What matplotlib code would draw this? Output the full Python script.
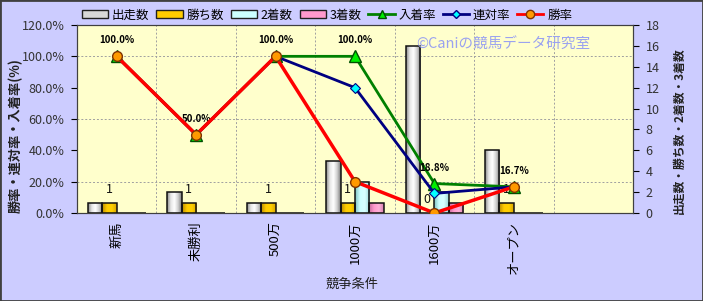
import numpy as np
import matplotlib
matplotlib.use("Agg")
import matplotlib.pyplot as plt
from matplotlib.colors import LinearSegmentedColormap
from matplotlib.patches import Patch, Rectangle
from matplotlib.lines import Line2D

plt.rcParams['font.family'] = ['Noto Sans CJK JP', 'DejaVu Sans']

# data
classes = ['新馬', '未勝利', '500万', '1000万', '1600万', 'オープン']
starts = [1, 2, 1, 5, 16, 6]
wins = [1, 1, 1, 1, 0, 1]
seconds = [0, 0, 0, 3, 2, 0]
thirds = [0, 0, 0, 1, 1, 0]
place_rate = [100.0, 50.0, 100.0, 100.0, 18.8, 16.7]
rentai_rate = [100.0, 50.0, 100.0, 80.0, 12.5, 16.7]
win_rate = [100.0, 50.0, 100.0, 20.0, 0.0, 16.7]

bar_names = ['出走数', '勝ち数', '2着数', '3着数']
bar_shades = [['#8a8a8a', '#e6e6e6', '#ffffff', '#d0d0d0', '#7a7a7a'],
              ['#b88a00', '#ffcc00', '#ffd000', '#d8a400'],
              ['#80c0c0', '#ccffff', '#d8ffff', '#99d8d8'],
              ['#c86a9c', '#ff99cc', '#ffb0d8', '#d880b0']]
bar_legend = ['#d8d8d8', '#ffcc00', '#ccffff', '#ff99cc']

fig = plt.figure(figsize=(7.03, 3.01), dpi=100)
fig.patch.set_facecolor('#ccccff')


def shade_bars(ax, bars, colors):
    """fill each bar with a horizontal gradient (cylinder look)"""
    cmap = LinearSegmentedColormap.from_list('shade', colors)
    grad = np.linspace(0, 1, 64).reshape(1, -1)
    for b in bars:
        if b.get_height() <= 0:
            continue
        x0, y0 = b.get_x(), b.get_y()
        im = ax.imshow(grad, cmap=cmap, aspect='auto', interpolation='bilinear',
                       extent=(x0, x0 + b.get_width(), y0, y0 + b.get_height()),
                       zorder=2)
        im.set_clip_path(b)
        b.set_facecolor('none')


# counts axis (bars) - drawn underneath
ax = fig.add_axes([77 / 703, 88 / 301, 556 / 703, 188 / 301])
ax.set_facecolor('#ffffcc')
x = np.arange(len(classes))
w = 0.182
for i, vals in enumerate([starts, wins, seconds, thirds]):
    bars = ax.bar(x + (i - 1.5) * w, vals, w, edgecolor='#111111', linewidth=1.1, zorder=2.1)
    shade_bars(ax, bars, bar_shades[i])

for xi, v in zip(x, wins):
    ax.annotate(str(v), (xi - 0.5 * w, v), xytext=(0, 9.5), textcoords='offset points',
                ha='center', va='center', fontsize=9, color='#111111', zorder=3)

# rate axis (lines) - on top
ax2 = ax.twinx()
ax.yaxis.tick_right()
ax2.yaxis.tick_left()

ax.set_xlim(-0.5, 6.5)
ax.set_ylim(0, 18)
ax.set_yticks(np.arange(0, 19, 2))
ax.set_yticks(np.arange(0, 19, 3), minor=True)
ax.set_xticks(x)
ax.set_xticks(np.arange(0.5, 6.5, 1), minor=True)
ax.set_xticklabels(classes, rotation=90, va='top', ha='center', fontsize=9.5)
ax.tick_params(axis='x', which='both', length=0, pad=6)
ax.tick_params(axis='y', which='major', length=4, direction='out', labelsize=9,
               labelcolor='#333333', pad=5)
ax.tick_params(axis='y', which='minor', length=0)
ax.grid(which='minor', color='#a0a0a0', linestyle=(0, (2, 2)), linewidth=0.7)
ax.set_axisbelow(True)
for sp in ax.spines.values():
    sp.set_color('#404040')

ax2.patch.set_visible(False)
ax2.plot(x, place_rate, color='#008000', lw=2, marker='^', ms=9,
         mfc='#00ee00', mec='#005000', mew=1, zorder=3)
ax2.plot(x, rentai_rate, color='#000080', lw=2, marker='D', ms=5,
         mfc='#00ffff', mec='#000080', mew=0.8, zorder=4)
ax2.plot(x, win_rate, color='#ff0000', lw=2.5, marker='o', ms=7,
         mfc='#ff9900', mec='#803300', mew=1, zorder=5)
for xi, v in zip(x, place_rate):
    ax2.annotate(f'{v:.1f}%', (xi, v), xytext=(0, 11.5), textcoords='offset points',
                 ha='center', va='center', fontsize=7, fontweight='bold', color='#000000')
ax2.set_ylim(0, 120)
ax2.set_yticks(np.arange(0, 121, 20))
ax2.set_yticklabels([f'{t:.1f}%' for t in np.arange(0, 121, 20)])
ax2.tick_params(axis='y', length=4, direction='out', labelsize=9, labelcolor='#333333', pad=5)
for sp in ax2.spines.values():
    sp.set_color('#404040')

ax2.text(0.61, 0.894, '©Caniの競馬データ研究室', transform=ax2.transAxes, fontsize=10.5,
         color='#9aa2f0', ha='left', va='center', zorder=6)

fig.text(16 / 703, 1 - 136 / 301, '勝率・連対率・入着率(%)', rotation=90, ha='center',
         va='center', fontsize=9.5, fontweight='bold', color='#222222')
fig.text(679 / 703, 1 - 131 / 301, '出走数・勝ち数・2着数・3着数', rotation=90, ha='center',
         va='center', fontsize=8.5, fontweight='bold', color='#222222')
fig.text(352 / 703, 1 - 284 / 301, '競争条件', ha='center', va='center', fontsize=9.5,
         color='#222222')

handles = [Patch(facecolor=c, edgecolor='#202020') for c in bar_legend]
handles += [Line2D([], [], color='#008000', lw=2, marker='^', ms=6, mfc='#00ee00', mec='#005000'),
            Line2D([], [], color='#000080', lw=2, marker='D', ms=4, mfc='#00ffff', mec='#000080'),
            Line2D([], [], color='#ff0000', lw=2, marker='o', ms=6, mfc='#ff9900', mec='#803300')]
labels = bar_names + ['入着率', '連対率', '勝率']
fig.legend(handles, labels, loc='center', bbox_to_anchor=(327 / 703, 1 - 15 / 301), ncol=7,
           frameon=False, fontsize=9, handlelength=2.1, handleheight=0.6,
           handletextpad=0.3, columnspacing=0.55)

fig.patches.append(Rectangle((0, 0), 1, 1, transform=fig.transFigure, fill=False,
                             edgecolor='#404040', linewidth=2))

fig.savefig('out.png', dpi=100, facecolor=fig.get_facecolor())
